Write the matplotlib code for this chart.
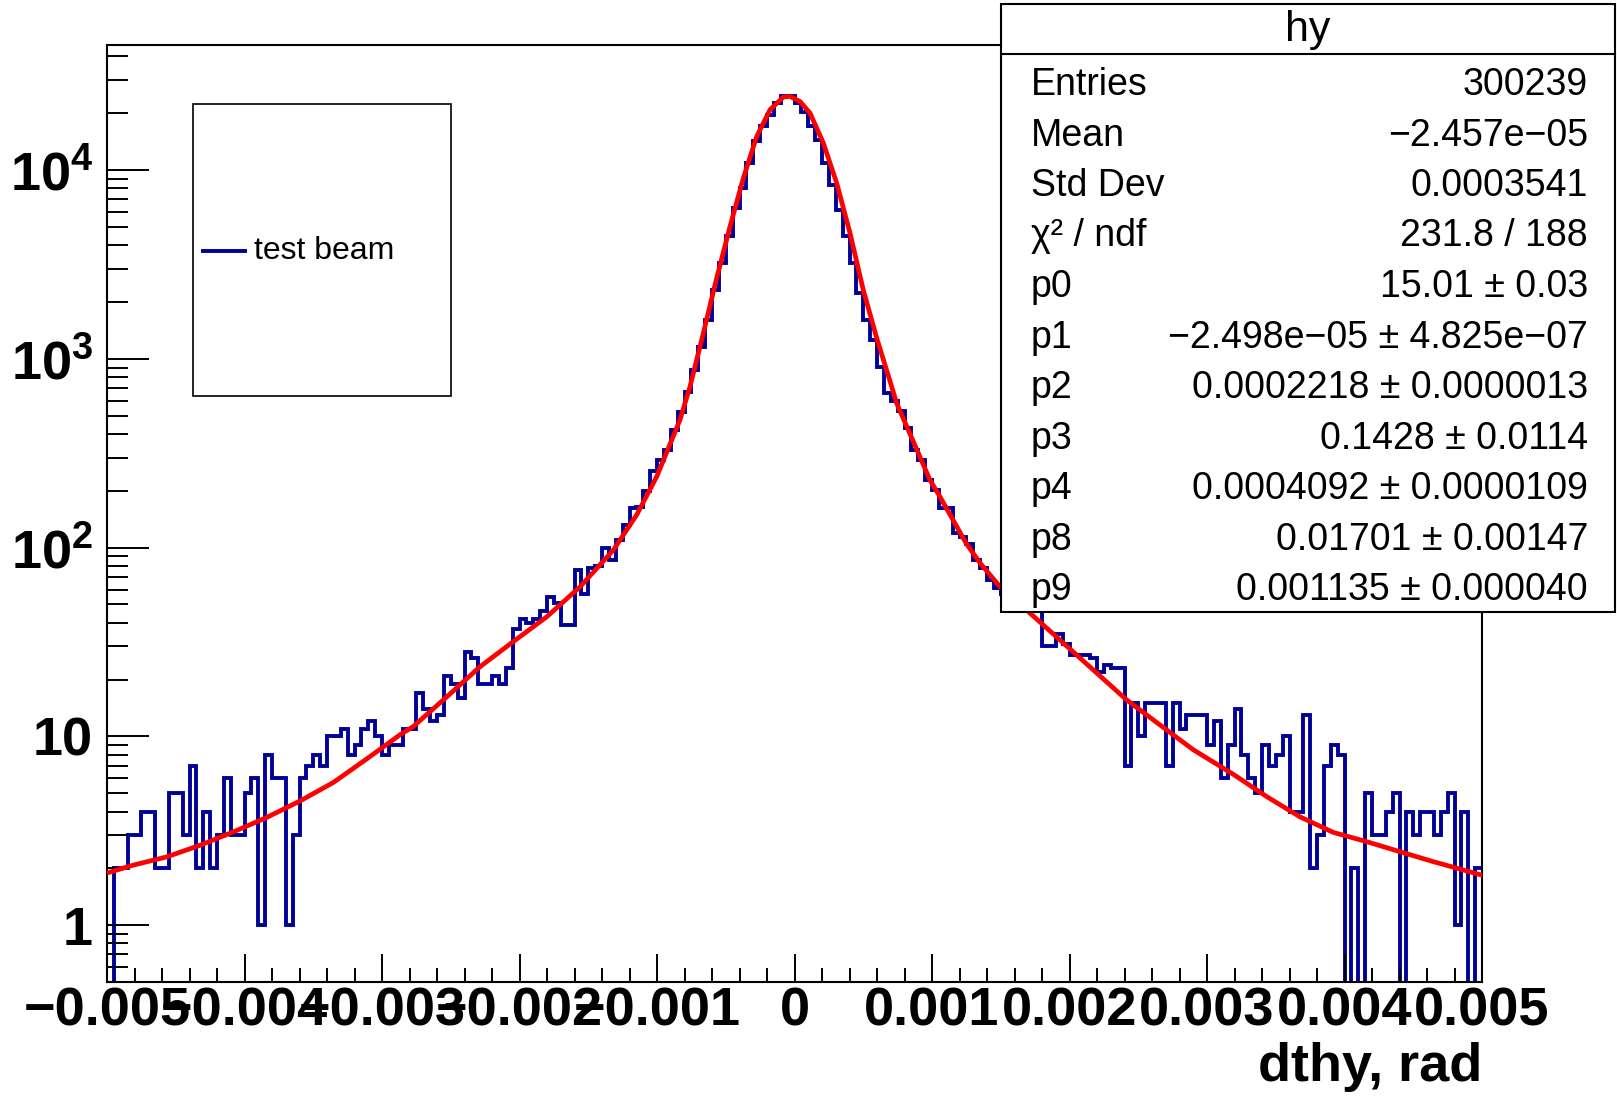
import numpy as np
import matplotlib
matplotlib.use("Agg")
import matplotlib.pyplot as plt
from matplotlib.patches import Rectangle
from matplotlib.lines import Line2D
from matplotlib.ticker import LogLocator, NullFormatter, MultipleLocator

plt.rcParams['font.family'] = ['Liberation Sans', 'DejaVu Sans']
plt.rcParams['mathtext.fontset'] = 'custom'
plt.rcParams['mathtext.rm'] = 'Liberation Sans'
plt.rcParams['mathtext.bf'] = 'Liberation Sans:bold'

# histogram "hy": 200 bins on [-0.005, 0.005]
x_min, x_max, n_bins = -0.005, 0.005, 200
counts = [
    0, 2, 2, 3, 3, 4, 4, 2, 2, 5,
    5, 3, 7, 2, 4, 2, 3, 6, 3, 3,
    5, 6, 1, 8, 6, 6, 1, 3, 6, 7,
    8, 7, 10, 10, 11, 8, 9, 11, 12, 10,
    8, 9, 9, 11, 11, 17, 14, 12, 13, 21,
    19, 16, 28, 26, 19, 19, 21, 19, 23, 37,
    42, 40, 42, 46, 55, 51, 39, 39, 76, 57,
    78, 80, 99, 86, 110, 132, 162, 165, 200, 255,
    290, 330, 421, 525, 671, 875, 1162, 1610, 2323, 3214,
    4450, 6290, 8030, 10900, 14200, 17030, 19650, 22650, 24560, 24700,
    22650, 20400, 17030, 14480, 10900, 8360, 6165, 4450, 3214, 2228,
    1610, 1260, 910, 658, 600, 530, 430, 330, 291, 228,
    202, 162, 162, 119, 114, 105, 86, 78, 67, 61,
    57, 54, 49, 51, 47, 46, 30, 30, 35, 31,
    27, 27, 27, 26, 22, 24, 23, 23, 7, 15,
    10, 15, 15, 15, 7, 15, 11, 13, 13, 13,
    9, 12, 6, 9, 14, 8, 6, 5, 9, 7,
    8, 10, 4, 4, 13, 2, 3, 7, 9, 8,
    0, 2, 0, 5, 3, 3, 4, 5, 0, 4,
    3, 4, 4, 3, 4, 5, 1, 4, 0, 2,
]

# fit curve
fit_x = [-0.005, -0.004809, -0.004566, -0.004324, -0.004081, -0.003839,
         -0.003596, -0.003354, -0.003111, -0.002869, -0.002772, -0.002529,
         -0.002287, -0.002045, -0.001802, -0.00156, -0.001318, -0.001148,
         -0.001002, -0.000833, -0.00076, -0.000663, -0.000566, -0.000469,
         -0.000372, -0.000275, -0.000178, -0.000081, -0.000033, 0.00004,
         0.000113, 0.00021, 0.000307, 0.000404, 0.0005, 0.000598,
         0.000695, 0.000743, 0.000864, 0.000985, 0.001058, 0.00125,
         0.001349, 0.001495, 0.001713, 0.001931, 0.002173, 0.002416,
         0.002658, 0.0029, 0.003191, 0.003434, 0.003676, 0.003919,
         0.004161, 0.004404, 0.004646, 0.005]
fit_y = [1.89, 2.08, 2.30, 2.65, 3.12, 3.72,
         4.55, 5.7, 7.6, 10.2, 11.3, 16.2,
         23.4, 31.8, 43, 62, 97, 149,
         238, 475, 713, 1368, 2678, 5027,
         9070, 15070, 20900, 24380, 24570, 23100,
         20040, 13900, 8530, 4630, 2320, 1288,
         760, 582, 365, 228, 186, 105,
         83, 62, 45, 32.4, 22.5, 15.6,
         11.5, 8.5, 6.3, 4.8, 3.75, 3.1,
         2.77, 2.45, 2.17, 1.84]

x_ticks = [-0.005, -0.004, -0.003, -0.002, -0.001, 0, 0.001, 0.002, 0.003, 0.004, 0.005]
x_tick_labels = ['\u22120.005', '\u22120.004', '\u22120.003', '\u22120.002', '\u22120.001', '0',
                 '0.001', '0.002', '0.003', '0.004', '0.005']
y_ticks = [1, 10, 100, 1000, 10000]
y_tick_labels = ['1', '10', r'$\mathbf{10^{2}}$', r'$\mathbf{10^{3}}$', r'$\mathbf{10^{4}}$']

stats_title = 'hy'
stats_names = ['Entries', 'Mean', 'Std Dev', '\u03c7\u00b2 / ndf', 'p0', 'p1', 'p2', 'p3', 'p4', 'p8', 'p9']
stats_values = ['300239', '\u22122.457e\u221205', '0.0003541', '231.8 / 188', '15.01 \u00b1 0.03',
                '\u22122.498e\u221205 \u00b1 4.825e\u221207', '0.0002218 \u00b1 0.0000013',
                '0.1428 \u00b1 0.0114', '0.0004092 \u00b1 0.0000109', '0.01701 \u00b1 0.00147',
                '0.001135 \u00b1 0.000040']

W, H = 1617, 1099
HIST_BLUE = '#000099'


def fx(px):
    return px / W


def fy(py):
    return 1 - py / H


fig = plt.figure(figsize=(W / 100, H / 100), dpi=100)
ax = fig.add_axes([fx(107), fy(982), fx(1482) - fx(107), fy(45) - fy(982)])

edges = np.linspace(x_min, x_max, n_bins + 1)
vals = np.asarray(counts, dtype=float)
# empty bins drop to the bottom of the frame, like ROOT does on a log axis
ax.stairs(np.where(vals > 0, vals, 1e-3), edges, baseline=None, color=HIST_BLUE, lw=2.8)
ax.plot(fit_x, fit_y, color='red', lw=3.4, zorder=3, solid_joinstyle='round')

ax.set_yscale('log')
ax.set_xlim(x_min, x_max)
ax.set_ylim(0.5, 46000)

ax.set_xticks(x_ticks)
ax.set_xticklabels(x_tick_labels, fontweight='bold')
ax.xaxis.set_minor_locator(MultipleLocator(0.0002))
ax.set_yticks(y_ticks)
ax.set_yticklabels(y_tick_labels, fontweight='bold')
ax.yaxis.set_minor_locator(LogLocator(base=10, subs=np.arange(2, 10)))
ax.yaxis.set_minor_formatter(NullFormatter())

ax.tick_params(axis='both', which='both', direction='in', top=False, right=False, width=1.4)
ax.tick_params(axis='x', which='major', length=20, pad=3, labelsize=39)
ax.tick_params(axis='x', which='minor', length=10)
ax.tick_params(axis='y', which='major', length=30, pad=10, labelsize=39)
ax.tick_params(axis='y', which='minor', length=15)
for sp in ax.spines.values():
    sp.set_linewidth(1.5)

ax.set_xlabel('dthy, rad', fontsize=39, fontweight='bold', loc='right')
ax.xaxis.set_label_coords(1.0, -0.064)

# legend box
fig.add_artist(Rectangle((fx(193), fy(396)), fx(451) - fx(193), fy(104) - fy(396),
                         transform=fig.transFigure, facecolor='white', edgecolor='black', lw=1.2, zorder=5))
fig.add_artist(Line2D([fx(203), fx(245)], [fy(250.6), fy(250.6)], transform=fig.transFigure,
                      color=HIST_BLUE, lw=2.8, zorder=6))
fig.text(fx(254), fy(250.6), 'test beam', fontsize=23, va='center', ha='left', zorder=6)

# stats box
fig.add_artist(Rectangle((fx(1001), fy(612)), fx(1615) - fx(1001), fy(4) - fy(612),
                         transform=fig.transFigure, facecolor='white', edgecolor='black', lw=1.5, zorder=5))
fig.add_artist(Line2D([fx(1001), fx(1615)], [fy(54), fy(54)], transform=fig.transFigure,
                      color='black', lw=1.5, zorder=6))
fig.text(fx(1308), fy(30), stats_title, fontsize=31, ha='center', va='center', zorder=6)
for i, (name, value) in enumerate(zip(stats_names, stats_values)):
    base = 95 + 50.5 * i
    fig.text(fx(1031), fy(base), name, fontsize=27, ha='left', va='baseline', zorder=6)
    fig.text(fx(1588), fy(base), value, fontsize=27, ha='right', va='baseline', zorder=6)

fig.savefig('out.png', dpi=100, facecolor='white')
